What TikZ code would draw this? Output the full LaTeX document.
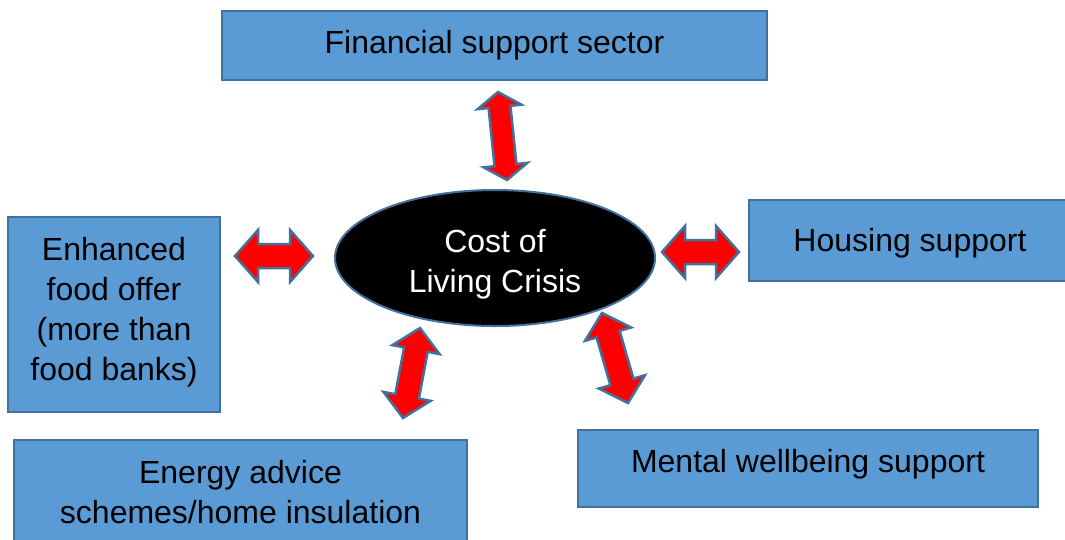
\documentclass[tikz,border=0pt]{standalone}
\usepackage{fontspec}
\setmainfont{Liberation Sans}
\usetikzlibrary{calc,shapes.geometric}
\definecolor{boxblue}{HTML}{5B9BD5}
\definecolor{edgeblue}{HTML}{41719C}
\newcommand\dblarrow[5]{%
  \draw[redarrow] (#1) -- ($(#1)!#3!(#2)!#4!90:(#2)$) -- ($(#1)!#3!(#2)!#5!90:(#2)$)
    -- ($(#2)!#3!(#1)!#5!-90:(#1)$) -- ($(#2)!#3!(#1)!#4!-90:(#1)$) -- (#2)
    -- ($(#2)!#3!(#1)!#4!90:(#1)$) -- ($(#2)!#3!(#1)!#5!90:(#1)$)
    -- ($(#1)!#3!(#2)!#5!-90:(#2)$) -- ($(#1)!#3!(#2)!#4!-90:(#2)$) -- cycle;}
\newcommand\nudge[2]{\raisebox{#1}[\height][\depth]{\begin{tabular}{@{}c@{}}#2\end{tabular}}}

\begin{document}
\begin{tikzpicture}[x=1pt,y=-1pt,
  box/.style={draw=edgeblue,fill=boxblue,line width=1.5pt,align=center,inner sep=0pt,
    font=\fontsize{32}{40}\selectfont},
  crisis/.style={ellipse,draw=edgeblue,fill=black,line width=2pt,text=white,align=center,
    inner sep=0pt,font=\fontsize{32}{40}\selectfont},
  redarrow/.style={draw=edgeblue,fill=red,line width=2.5pt,line join=miter}]
  \useasboundingbox (0,0) rectangle (1065,539);
  \clip (0,0) rectangle (1065,539);
  \node[crisis, minimum width=320, minimum height=136] (crisis) at (495,258) {\nudge{-6pt}{Cost of\\Living Crisis}};
  \node[box, minimum width=545, minimum height=69] (fin) at (494.5,45.5) {Financial support sector};
  \node[box, minimum width=322, minimum height=81] (housing) at (910,240.5) {\nudge{-3pt}{Housing support}};
  \node[box, minimum width=212, minimum height=195] (food) at (114,314.5) {\nudge{2pt}{Enhanced\\food offer\\(more than\\food banks)}};
  \node[box, minimum width=453, minimum height=104] (energy) at (240.5,492) {Energy advice\\schemes/home insulation};
  \node[box, minimum width=460, minimum height=77] (mental) at (808,468.5) {\nudge{4pt}{Mental wellbeing support}};
  \coordinate (fin-a) at (498,92);
  \coordinate (fin-b) at (507,180);
  \coordinate (food-a) at (235,256);
  \coordinate (food-b) at (313,256);
  \coordinate (housing-a) at (662,252);
  \coordinate (housing-b) at (739,252);
  \coordinate (energy-a) at (420,328);
  \coordinate (energy-b) at (403,418);
  \coordinate (mental-a) at (602,313);
  \coordinate (mental-b) at (628,403);
  \dblarrow{fin-a}{fin-b}{15pt}{22pt}{11pt}
  \dblarrow{food-a}{food-b}{23pt}{26pt}{12pt}
  \dblarrow{housing-a}{housing-b}{23pt}{26pt}{12pt}
  \dblarrow{energy-a}{energy-b}{22pt}{24pt}{12pt}
  \dblarrow{mental-a}{mental-b}{22pt}{24pt}{12pt}
\end{tikzpicture}
\end{document}
